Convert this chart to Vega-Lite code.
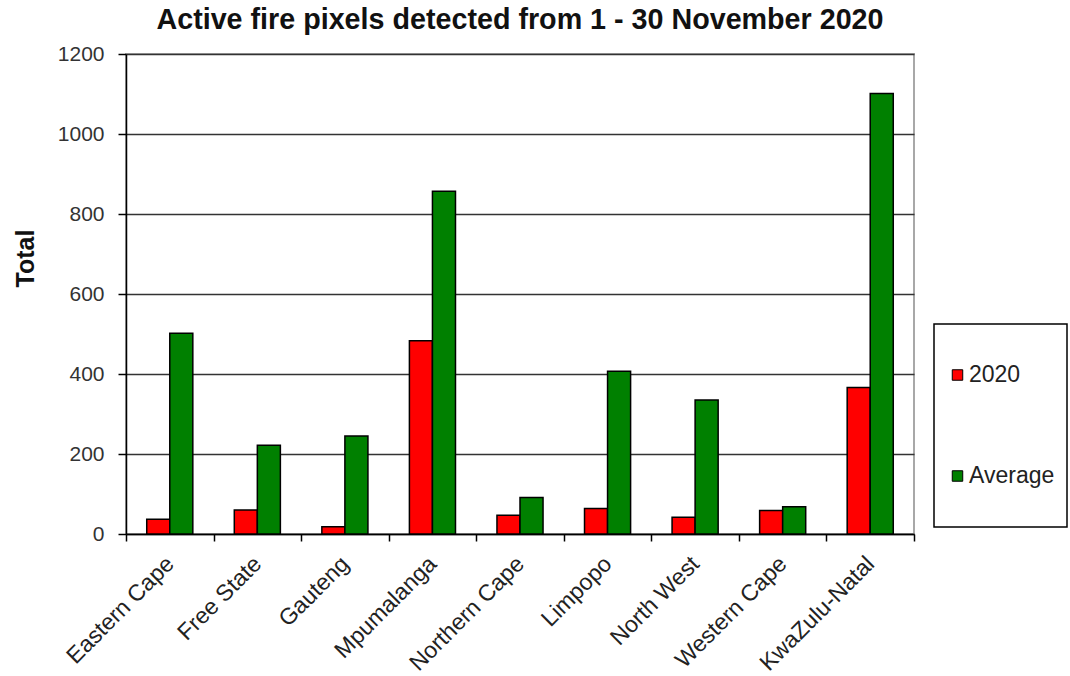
{
  "$schema": "https://vega.github.io/schema/vega-lite/v6.json",
  "width": 788,
  "height": 480,
  "autosize": "none",
  "padding": {"left": 126, "top": 54, "right": 156, "bottom": 142},
  "background": "white",
  "config": {
    "font": "Liberation Sans",
    "view": {"stroke": "#a8a8a8", "strokeWidth": 2},
    "legend": {"strokeWidth": 1.5}
  },
  "title": {
    "text": "Active fire pixels detected from 1 - 30 November 2020",
    "fontSize": 28.7,
    "fontWeight": "bold",
    "color": "#111111",
    "font": "Liberation Sans",
    "anchor": "middle",
    "frame": "group",
    "offset": 8
  },
  "data": {
    "values": [
      {"region": "Eastern Cape", "series": "2020", "value": 37},
      {"region": "Eastern Cape", "series": "Average", "value": 502},
      {"region": "Free State", "series": "2020", "value": 60},
      {"region": "Free State", "series": "Average", "value": 222},
      {"region": "Gauteng", "series": "2020", "value": 18},
      {"region": "Gauteng", "series": "Average", "value": 245},
      {"region": "Mpumalanga", "series": "2020", "value": 483},
      {"region": "Mpumalanga", "series": "Average", "value": 857},
      {"region": "Northern Cape", "series": "2020", "value": 47},
      {"region": "Northern Cape", "series": "Average", "value": 91},
      {"region": "Limpopo", "series": "2020", "value": 64},
      {"region": "Limpopo", "series": "Average", "value": 407},
      {"region": "North West", "series": "2020", "value": 42},
      {"region": "North West", "series": "Average", "value": 335},
      {"region": "Western Cape", "series": "2020", "value": 59},
      {"region": "Western Cape", "series": "Average", "value": 68},
      {"region": "KwaZulu-Natal", "series": "2020", "value": 366},
      {"region": "KwaZulu-Natal", "series": "Average", "value": 1101}
    ]
  },
  "mark": {"type": "bar", "stroke": "#000000", "strokeWidth": 1.5},
  "encoding": {
    "x": {
      "field": "region",
      "type": "nominal",
      "sort": null,
      "scale": {"paddingInner": 0, "paddingOuter": 0},
      "axis": {
        "title": null,
        "labelAngle": -45,
        "labelAlign": "right",
        "labelBaseline": "middle",
        "labelFontSize": 23,
        "labelColor": "#222222",
        "labelPadding": 19,
        "tickBand": "extent",
        "tickSize": 7,
        "tickColor": "#000000",
        "domainColor": "#000000",
        "domainWidth": 1.5,
        "tickWidth": 1.5,
        "labelLimit": 300
      }
    },
    "xOffset": {
      "field": "series",
      "type": "nominal",
      "scale": {"paddingInner": 0, "paddingOuter": 0.9}
    },
    "y": {
      "field": "value",
      "type": "quantitative",
      "scale": {"domain": [0, 1200], "nice": false},
      "axis": {
        "title": "Total",
        "titleFontSize": 25,
        "titleFontWeight": "bold",
        "titleColor": "#111111",
        "titleAngle": -90,
        "titleAlign": "center",
        "titleBaseline": "middle",
        "titleX": -101,
        "titleY": 204,
        "values": [0, 200, 400, 600, 800, 1000, 1200],
        "format": "d",
        "labelFontSize": 21,
        "labelColor": "#333333",
        "labelPadding": 14,
        "tickSize": 8,
        "tickColor": "#000000",
        "tickWidth": 1.5,
        "domainColor": "#000000",
        "domainWidth": 1.5,
        "grid": true,
        "gridColor": "#333333",
        "gridWidth": 1.5
      }
    },
    "color": {
      "field": "series",
      "type": "nominal",
      "scale": {"domain": ["2020", "Average"], "range": ["#FF0000", "#008000"]},
      "legend": {
        "title": null,
        "orient": "none",
        "legendX": 808,
        "legendY": 270,
        "strokeColor": "#000000",
        "fillColor": "#ffffff",
        "padding": 12,
        "clipHeight": 78,
        "rowPadding": 23,
        "symbolType": "square",
        "symbolSize": 110,
        "symbolStrokeColor": "#000000",
        "symbolStrokeWidth": 1,
        "symbolOpacity": 1,
        "labelFontSize": 23,
        "labelColor": "#222222",
        "labelOffset": 0
      }
    }
  }
}
